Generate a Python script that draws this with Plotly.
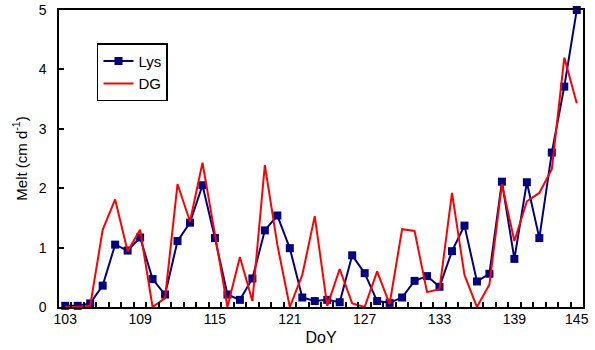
import plotly.graph_objects as go

# Day of year (category positions along the x axis)
days = list(range(103, 145))

# Lysimeter melt (cm/d)
lys = [0.02, 0.02, 0.06, 0.36, 1.05, 0.95, 1.17, 0.47, 0.21, 1.11,
       1.42, 2.05, 1.16, 0.21, 0.12, 0.48, 1.29, 1.54, 0.99, 0.16,
       0.10, 0.12, 0.08, 0.87, 0.57, 0.10, 0.07, 0.16, 0.44, 0.52,
       0.34, 0.94, 1.37, 0.43, 0.56, 2.11, 0.81, 2.10, 1.16, 2.60,
       3.71, 5.00]

# Degree-day model melt (cm/d)
dg = [0.00, 0.00, 0.02, 1.30, 1.81, 0.94, 1.30, 0.00, 0.15, 2.07,
      1.44, 2.43, 1.22, 0.00, 0.84, 0.10, 2.39, 1.05, 0.00, 0.54,
      1.53, 0.02, 0.64, 0.06, 0.00, 0.60, 0.05, 1.31, 1.28, 0.25,
      0.30, 1.92, 0.54, 0.00, 0.38, 2.07, 1.11, 1.78, 1.92, 2.32,
      4.20, 3.43]

tick_days = [103, 109, 115, 121, 127, 133, 139, 144]
tick_labels = ["103", "109", "115", "121", "127", "133", "139", "145"]

FONT = "Liberation Sans, Arial, sans-serif"
X_RANGE = [days[0] - 0.5, days[-1] + 0.5]

fig = go.Figure()
fig.add_trace(go.Scatter(
    x=days, y=lys, name="Lys", mode="lines+markers",
    line=dict(color="#000080", width=2),
    marker=dict(symbol="square", size=8, color="#000080"),
    cliponaxis=False,
))
fig.add_trace(go.Scatter(
    x=days, y=dg, name="DG", mode="lines", xaxis="x2", yaxis="y",
    line=dict(color="#FF0000", width=2),
    cliponaxis=False,
))

fig.update_layout(
    width=595, height=350,
    margin=dict(l=59, r=12, t=10, b=43),
    paper_bgcolor="white", plot_bgcolor="white",
    font=dict(family=FONT, size=14, color="black"),
    showlegend=True,
    legend=dict(
        x=0.0725, y=0.888, xanchor="left", yanchor="top",
        bordercolor="black", borderwidth=1.5, bgcolor="white",
        font=dict(family=FONT, size=15),
        tracegroupgap=0,
    ),
    # main axis: small ticks at every category boundary
    xaxis=dict(
        range=X_RANGE, automargin=False,
        tickmode="linear", tick0=X_RANGE[0], dtick=1,
        ticks="inside", ticklen=5, tickcolor="#000000", tickwidth=1.5,
        showticklabels=False,
        showgrid=False, zeroline=False,
        showline=True, linecolor="black", linewidth=1.5, mirror=True,
        title=dict(text="DoY", font=dict(family=FONT, size=16), standoff=24),
        layer="above traces",
    ),
    # overlay axis: day labels every 6 categories
    xaxis2=dict(
        range=X_RANGE, overlaying="x", side="bottom", anchor="y",
        automargin=False,
        tickmode="array", tickvals=tick_days, ticktext=tick_labels,
        ticks="", ticklabelstandoff=2,
        tickfont=dict(family=FONT, size=14),
        showgrid=False, zeroline=False, showline=False,
    ),
    yaxis=dict(
        range=[0, 5], dtick=1, tick0=0, automargin=False,
        ticks="inside", ticklen=5, tickcolor="#000000", tickwidth=2,
        ticksuffix="\u00a0\u00a0",
        showgrid=False, zeroline=False,
        showline=True, linecolor="black", linewidth=1.5, mirror=True,
        title=dict(text="Melt (cm d<sup>-1</sup>)", font=dict(family=FONT, size=15), standoff=8),
        tickfont=dict(family=FONT, size=14),
        layer="above traces",
    ),
)

fig.write_html("out.html", config={"displayModeBar": False},
               post_script="document.body.style.margin='0';")
